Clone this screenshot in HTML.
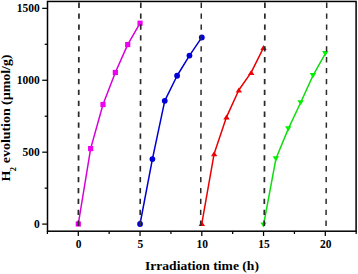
<!DOCTYPE html>
<html><head><meta charset="utf-8"><style>
html,body{margin:0;padding:0;background:#fff;width:358px;height:274px;overflow:hidden}
svg{display:block}
.t{font:bold 11.5px "Liberation Serif",serif;fill:#000}
.ax{font:bold 13.6px "Liberation Serif",serif;fill:#000}
.ay{font:bold 13.9px "Liberation Serif",serif;fill:#000}
.sub{font-size:8.4px}
</style></head><body>
<svg width="358" height="274" viewBox="0 0 358 274">
<polyline points="78.30,224.00 90.65,148.60 103.00,104.50 115.35,72.50 127.70,44.60 140.05,23.20" fill="none" stroke="#d800d8" stroke-width="1.5" stroke-linejoin="round"/>
<polyline points="140.05,224.00 152.40,159.05 164.75,100.80 177.10,75.75 189.45,55.55 201.80,37.40" fill="none" stroke="#0000d0" stroke-width="1.5" stroke-linejoin="round"/>
<polyline points="201.80,223.60 214.15,153.70 226.50,117.10 238.85,90.00 251.20,72.40 263.55,47.60" fill="none" stroke="#e80000" stroke-width="1.5" stroke-linejoin="round"/>
<polyline points="263.55,225.00 275.90,158.80 288.25,128.90 300.60,102.75 312.95,75.60 325.30,53.60" fill="none" stroke="#10dc10" stroke-width="1.5" stroke-linejoin="round"/>
<rect x="75.70" y="221.40" width="5.2" height="5.2" fill="#f000f0"/>
<rect x="88.05" y="146.00" width="5.2" height="5.2" fill="#f000f0"/>
<rect x="100.40" y="101.90" width="5.2" height="5.2" fill="#f000f0"/>
<rect x="112.75" y="69.90" width="5.2" height="5.2" fill="#f000f0"/>
<rect x="125.10" y="42.00" width="5.2" height="5.2" fill="#f000f0"/>
<rect x="137.45" y="20.60" width="5.2" height="5.2" fill="#f000f0"/>
<circle cx="140.05" cy="224.00" r="2.9" fill="#0000d8"/>
<circle cx="152.40" cy="159.05" r="2.9" fill="#0000d8"/>
<circle cx="164.75" cy="100.80" r="2.9" fill="#0000d8"/>
<circle cx="177.10" cy="75.75" r="2.9" fill="#0000d8"/>
<circle cx="189.45" cy="55.55" r="2.9" fill="#0000d8"/>
<circle cx="201.80" cy="37.40" r="2.9" fill="#0000d8"/>
<polygon points="201.80,221.10 205.00,226.10 198.60,226.10" fill="#f00000"/>
<polygon points="214.15,151.20 217.35,156.20 210.95,156.20" fill="#f00000"/>
<polygon points="226.50,114.60 229.70,119.60 223.30,119.60" fill="#f00000"/>
<polygon points="238.85,87.50 242.05,92.50 235.65,92.50" fill="#f00000"/>
<polygon points="251.20,69.90 254.40,74.90 248.00,74.90" fill="#f00000"/>
<polygon points="263.55,45.10 266.75,50.10 260.35,50.10" fill="#f00000"/>
<polygon points="260.35,222.40 266.75,222.40 263.55,227.60" fill="#00f000"/>
<polygon points="272.70,156.20 279.10,156.20 275.90,161.40" fill="#00f000"/>
<polygon points="285.05,126.30 291.45,126.30 288.25,131.50" fill="#00f000"/>
<polygon points="297.40,100.15 303.80,100.15 300.60,105.35" fill="#00f000"/>
<polygon points="309.75,73.00 316.15,73.00 312.95,78.20" fill="#00f000"/>
<polygon points="322.10,51.00 328.50,51.00 325.30,56.20" fill="#00f000"/>
<line x1="79.00" y1="2.6" x2="78.35" y2="226.2" stroke="#2a2a2a" stroke-width="1.75" stroke-dasharray="5.3 5.6"/>
<line x1="140.80" y1="2.6" x2="140.15" y2="226.2" stroke="#2a2a2a" stroke-width="1.65" stroke-dasharray="5.3 5.6"/>
<line x1="201.30" y1="2.6" x2="200.65" y2="226.2" stroke="#2a2a2a" stroke-width="1.5" stroke-dasharray="5.3 5.6"/>
<line x1="264.90" y1="2.6" x2="264.25" y2="226.2" stroke="#2a2a2a" stroke-width="1.75" stroke-dasharray="5.3 5.6"/>
<line x1="326.70" y1="2.6" x2="326.05" y2="226.2" stroke="#2a2a2a" stroke-width="1.5" stroke-dasharray="5.3 5.6"/>
<rect x="47.5" y="1.45" width="308.60" height="229.75" fill="none" stroke="#000" stroke-width="1.5"/>
<line x1="42.2" y1="224.10" x2="47.5" y2="224.10" stroke="#000" stroke-width="1.25"/>
<line x1="42.2" y1="152.18" x2="47.5" y2="152.18" stroke="#000" stroke-width="1.25"/>
<line x1="42.2" y1="80.26" x2="47.5" y2="80.26" stroke="#000" stroke-width="1.25"/>
<line x1="42.2" y1="8.34" x2="47.5" y2="8.34" stroke="#000" stroke-width="1.25"/>
<line x1="44.7" y1="188.14" x2="47.5" y2="188.14" stroke="#000" stroke-width="1.25"/>
<line x1="44.7" y1="116.22" x2="47.5" y2="116.22" stroke="#000" stroke-width="1.25"/>
<line x1="44.7" y1="44.30" x2="47.5" y2="44.30" stroke="#000" stroke-width="1.25"/>
<line x1="78.30" y1="231.2" x2="78.30" y2="236.0" stroke="#000" stroke-width="1.25"/>
<line x1="140.05" y1="231.2" x2="140.05" y2="236.0" stroke="#000" stroke-width="1.25"/>
<line x1="201.80" y1="231.2" x2="201.80" y2="236.0" stroke="#000" stroke-width="1.25"/>
<line x1="263.55" y1="231.2" x2="263.55" y2="236.0" stroke="#000" stroke-width="1.25"/>
<line x1="325.30" y1="231.2" x2="325.30" y2="236.0" stroke="#000" stroke-width="1.25"/>
<line x1="47.42" y1="231.2" x2="47.42" y2="234.0" stroke="#000" stroke-width="1.25"/>
<line x1="109.17" y1="231.2" x2="109.17" y2="234.0" stroke="#000" stroke-width="1.25"/>
<line x1="170.93" y1="231.2" x2="170.93" y2="234.0" stroke="#000" stroke-width="1.25"/>
<line x1="232.68" y1="231.2" x2="232.68" y2="234.0" stroke="#000" stroke-width="1.25"/>
<line x1="294.43" y1="231.2" x2="294.43" y2="234.0" stroke="#000" stroke-width="1.25"/>
<line x1="356.18" y1="231.2" x2="356.18" y2="234.0" stroke="#000" stroke-width="1.25"/>
<text x="39.8" y="228.00" text-anchor="end" class="t">0</text>
<text x="39.8" y="156.08" text-anchor="end" class="t">500</text>
<text x="39.8" y="84.16" text-anchor="end" class="t">1000</text>
<text x="39.8" y="12.24" text-anchor="end" class="t">1500</text>
<text x="78.65" y="248.2" text-anchor="middle" class="t">0</text>
<text x="140.40" y="248.2" text-anchor="middle" class="t">5</text>
<text x="202.15" y="248.2" text-anchor="middle" class="t">10</text>
<text x="263.90" y="248.2" text-anchor="middle" class="t">15</text>
<text x="325.65" y="248.2" text-anchor="middle" class="t">20</text>
<text transform="translate(201.95,270.1) scale(1,0.975)" text-anchor="middle" class="ax">Irradiation time (h)</text>
<text transform="translate(10.3,181.4) rotate(-90) scale(1,0.91)" class="ay">H<tspan class="sub" dx="-0.7" dy="6.1">2</tspan><tspan dx="0.5" dy="-6.1"> evolution (&#181;mol/g)</tspan></text>
</svg>
</body></html>
